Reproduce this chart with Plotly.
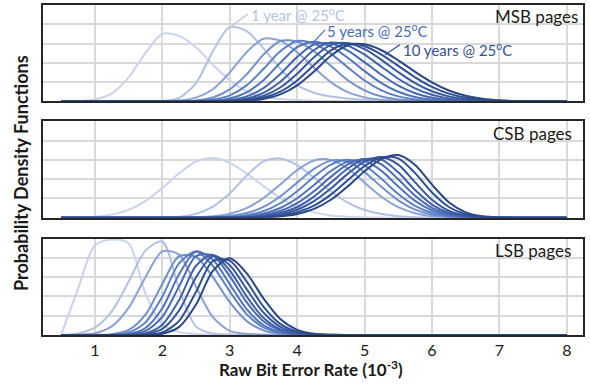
import plotly.graph_objects as go

# ---------------- data ----------------
x_rber = [0.5, 0.75, 1.0, 1.25, 1.5, 1.75, 2.0, 2.25, 2.5, 2.75, 3.0, 3.25, 3.5, 3.75, 4.0,
          4.25, 4.5, 4.75, 5.0, 5.25, 5.5, 5.75, 6.0, 6.25, 6.5, 6.75, 7.0, 7.25, 7.5, 7.75, 8.0]

retention_years = [0, 1, 2, 3, 4, 5, 6, 7, 8, 9, 10]

msb_pdf = [
    [0, 0.003, 0.019, 0.083, 0.25, 0.50, 0.70, 0.68, 0.56, 0.38, 0.22, 0.106, 0.045, 0.024, 0.014, 0.008, 0.004, 0.002, 0.001, 0, 0, 0, 0, 0, 0, 0, 0, 0, 0, 0, 0],
    [0, 0, 0, 0, 0, 0, 0.004, 0.037, 0.19, 0.52, 0.77, 0.73, 0.55, 0.34, 0.17, 0.09, 0.05, 0.03, 0.016, 0.008, 0.004, 0.002, 0.001, 0, 0, 0, 0, 0, 0, 0, 0],
    [0, 0, 0, 0, 0, 0, 0.0015, 0.009, 0.039, 0.126, 0.30, 0.51, 0.65, 0.63, 0.51, 0.35, 0.20, 0.096, 0.042, 0.018, 0.008, 0.004, 0.002, 0.001, 0, 0, 0, 0, 0, 0, 0],
    [0, 0, 0, 0, 0, 0, 0, 0.002, 0.010, 0.041, 0.125, 0.28, 0.485, 0.626, 0.62, 0.52, 0.37, 0.22, 0.115, 0.05, 0.02, 0.008, 0.003, 0.001, 0, 0, 0, 0, 0, 0, 0],
    [0, 0, 0, 0, 0, 0, 0, 0, 0.004, 0.019, 0.063, 0.166, 0.336, 0.52, 0.627, 0.60, 0.496, 0.353, 0.217, 0.115, 0.052, 0.021, 0.008, 0.003, 0.001, 0, 0, 0, 0, 0, 0],
    [0, 0, 0, 0, 0, 0, 0, 0, 0.002, 0.008, 0.031, 0.094, 0.22, 0.40, 0.563, 0.62, 0.568, 0.453, 0.315, 0.19, 0.10, 0.046, 0.018, 0.006, 0.002, 0.001, 0, 0, 0, 0, 0],
    [0, 0, 0, 0, 0, 0, 0, 0, 0, 0.004, 0.016, 0.052, 0.138, 0.284, 0.462, 0.59, 0.60, 0.528, 0.407, 0.276, 0.163, 0.085, 0.039, 0.0155, 0.0055, 0.002, 0.001, 0, 0, 0, 0],
    [0, 0, 0, 0, 0, 0, 0, 0, 0, 0.002, 0.0085, 0.031, 0.089, 0.204, 0.37, 0.533, 0.61, 0.579, 0.485, 0.36, 0.235, 0.136, 0.069, 0.031, 0.0125, 0.0044, 0.0015, 0, 0, 0, 0],
    [0, 0, 0, 0, 0, 0, 0, 0, 0, 0, 0.005, 0.019, 0.058, 0.144, 0.287, 0.459, 0.586, 0.604, 0.542, 0.431, 0.304, 0.19, 0.105, 0.052, 0.0225, 0.0087, 0.003, 0.001, 0, 0, 0],
    [0, 0, 0, 0, 0, 0, 0, 0, 0, 0, 0.003, 0.0114, 0.038, 0.101, 0.217, 0.377, 0.53, 0.60, 0.572, 0.486, 0.369, 0.25, 0.151, 0.081, 0.039, 0.0167, 0.0064, 0.002, 0.0007, 0, 0],
    [0, 0, 0, 0, 0, 0, 0, 0, 0, 0, 0.0018, 0.0074, 0.026, 0.073, 0.167, 0.311, 0.473, 0.583, 0.592, 0.531, 0.426, 0.306, 0.197, 0.113, 0.058, 0.027, 0.011, 0.004, 0.0013, 0, 0],
]

csb_pdf = [
    [0.0006, 0.003, 0.011, 0.032, 0.081, 0.172, 0.308, 0.462, 0.583, 0.619, 0.569, 0.46, 0.328, 0.206, 0.113, 0.055, 0.024, 0.009, 0.003, 0.001, 0, 0, 0, 0, 0, 0, 0, 0, 0, 0, 0],
    [0, 0, 0, 0, 0, 0, 0.002, 0.011, 0.04, 0.114, 0.253, 0.436, 0.585, 0.615, 0.545, 0.416, 0.274, 0.156, 0.08, 0.038, 0.016, 0.006, 0.002, 0.001, 0, 0, 0, 0, 0, 0, 0],
    [0, 0, 0, 0, 0, 0, 0, 0.001, 0.0043, 0.0146, 0.042, 0.10, 0.203, 0.345, 0.494, 0.594, 0.60, 0.51, 0.364, 0.218, 0.11, 0.047, 0.0167, 0.005, 0.0013, 0, 0, 0, 0, 0, 0],
    [0, 0, 0, 0, 0, 0, 0, 0, 0.0013, 0.005, 0.017, 0.048, 0.112, 0.22, 0.364, 0.506, 0.592, 0.58, 0.473, 0.32, 0.18, 0.084, 0.0326, 0.0105, 0.0028, 0.0007, 0, 0, 0, 0, 0],
    [0, 0, 0, 0, 0, 0, 0, 0, 0, 0.0023, 0.0085, 0.026, 0.068, 0.15, 0.275, 0.424, 0.55, 0.60, 0.543, 0.403, 0.245, 0.122, 0.05, 0.0166, 0.0045, 0.001, 0, 0, 0, 0, 0],
    [0, 0, 0, 0, 0, 0, 0, 0, 0, 0.0012, 0.0047, 0.0155, 0.043, 0.101, 0.202, 0.34, 0.484, 0.582, 0.59, 0.486, 0.324, 0.174, 0.075, 0.026, 0.0074, 0.0017, 0, 0, 0, 0, 0],
    [0, 0, 0, 0, 0, 0, 0, 0, 0, 0, 0.0025, 0.009, 0.027, 0.07, 0.151, 0.275, 0.424, 0.553, 0.61, 0.553, 0.398, 0.228, 0.103, 0.037, 0.0106, 0.0024, 0.0005, 0, 0, 0, 0],
    [0, 0, 0, 0, 0, 0, 0, 0, 0, 0, 0.0014, 0.0054, 0.0175, 0.048, 0.111, 0.219, 0.364, 0.51, 0.606, 0.602, 0.471, 0.287, 0.136, 0.05, 0.0145, 0.0032, 0.0006, 0, 0, 0, 0],
    [0, 0, 0, 0, 0, 0, 0, 0, 0, 0, 0.0009, 0.0035, 0.0117, 0.034, 0.083, 0.172, 0.303, 0.455, 0.581, 0.63, 0.55, 0.366, 0.186, 0.072, 0.021, 0.0048, 0.0008, 0, 0, 0, 0],
    [0, 0, 0, 0, 0, 0, 0, 0, 0, 0, 0, 0.0018, 0.0068, 0.021, 0.056, 0.125, 0.239, 0.388, 0.536, 0.628, 0.616, 0.462, 0.261, 0.111, 0.0356, 0.0086, 0.0016, 0, 0, 0, 0],
    [0, 0, 0, 0, 0, 0, 0, 0, 0, 0, 0, 0.001, 0.004, 0.0133, 0.038, 0.091, 0.186, 0.325, 0.482, 0.607, 0.65, 0.547, 0.343, 0.16, 0.056, 0.0144, 0.0028, 0.0005, 0, 0, 0],
]

lsb_pdf = [
    [0, 0.48, 0.93, 0.99, 0.95, 0.43, 0.11, 0.03, 0.01, 0.003, 0.001, 0, 0, 0, 0, 0, 0, 0, 0, 0, 0, 0, 0, 0, 0, 0, 0, 0, 0, 0, 0],
    [0, 0.017, 0.076, 0.244, 0.552, 0.875, 0.97, 0.477, 0.087, 0.015, 0.005, 0.002, 0, 0, 0, 0, 0, 0, 0, 0, 0, 0, 0, 0, 0, 0, 0, 0, 0, 0, 0],
    [0, 0.003, 0.019, 0.089, 0.281, 0.60, 0.867, 0.834, 0.50, 0.185, 0.042, 0.012, 0.005, 0.002, 0, 0, 0, 0, 0, 0, 0, 0, 0, 0, 0, 0, 0, 0, 0, 0, 0],
    [0, 0, 0.0008, 0.008, 0.052, 0.212, 0.53, 0.818, 0.809, 0.601, 0.34, 0.146, 0.048, 0.012, 0.0023, 0.0004, 0, 0, 0, 0, 0, 0, 0, 0, 0, 0, 0, 0, 0, 0, 0],
    [0, 0, 0, 0.0034, 0.027, 0.131, 0.398, 0.745, 0.865, 0.716, 0.451, 0.217, 0.08, 0.022, 0.0047, 0.0008, 0, 0, 0, 0, 0, 0, 0, 0, 0, 0, 0, 0, 0, 0, 0],
    [0, 0, 0, 0.001, 0.0115, 0.0725, 0.277, 0.632, 0.867, 0.78, 0.528, 0.269, 0.1035, 0.03, 0.0065, 0.001, 0, 0, 0, 0, 0, 0, 0, 0, 0, 0, 0, 0, 0, 0, 0],
    [0, 0, 0, 0.0005, 0.0056, 0.042, 0.188, 0.507, 0.819, 0.823, 0.61, 0.34, 0.143, 0.045, 0.011, 0.002, 0, 0, 0, 0, 0, 0, 0, 0, 0, 0, 0, 0, 0, 0, 0],
    [0, 0, 0, 0, 0.0018, 0.018, 0.107, 0.364, 0.718, 0.833, 0.669, 0.40, 0.178, 0.059, 0.0145, 0.0027, 0.0004, 0, 0, 0, 0, 0, 0, 0, 0, 0, 0, 0, 0, 0, 0],
    [0, 0, 0, 0, 0.0008, 0.009, 0.063, 0.255, 0.598, 0.818, 0.724, 0.476, 0.233, 0.085, 0.023, 0.0047, 0.0008, 0, 0, 0, 0, 0, 0, 0, 0, 0, 0, 0, 0, 0, 0],
    [0, 0, 0, 0, 0, 0.0028, 0.027, 0.147, 0.447, 0.766, 0.772, 0.556, 0.295, 0.115, 0.033, 0.0069, 0.0013, 0, 0, 0, 0, 0, 0, 0, 0, 0, 0, 0, 0, 0, 0],
    [0, 0, 0, 0, 0, 0.001, 0.0127, 0.084, 0.316, 0.666, 0.795, 0.641, 0.379, 0.165, 0.053, 0.012, 0.002, 0.0004, 0, 0, 0, 0, 0, 0, 0, 0, 0, 0, 0, 0, 0],
]

panel_names = ["MSB pages", "CSB pages", "LSB pages"]
x_ticks = [1, 2, 3, 4, 5, 6, 7, 8]

# ---------------- styling ----------------
curve_colors = ['#c9d3eb', '#b2c1e3', '#8aa2d5', '#7090cb', '#5d7fc3', '#5173bc',
                '#4869b3', '#4060a8', '#38589e', '#315093', '#2a4786']
FONT = "Lato"
GRID = '#d9d9d9'

fig = go.Figure()

# plot area: x 43..583 px, panels 3..100, 120..217, 238..335 px
ML, MR, MT, MB = 43, 7, 3, 50
W, H = 590, 385
ph = H - MT - MB


def ydom(top_px, bot_px):
    return [(H - MB - bot_px) / ph, (H - MB - top_px) / ph]


domains = [ydom(3, 100), ydom(120, 217), ydom(238, 335)]
panels = [msb_pdf, csb_pdf, lsb_pdf]

for p, data in enumerate(panels):
    ax = '' if p == 0 else str(p + 1)
    for i, yv in enumerate(data):
        fig.add_trace(go.Scatter(
            x=x_rber, y=yv, mode='lines',
            line=dict(color=curve_colors[i], width=2, shape='spline', smoothing=0.8),
            xaxis='x' + ax, yaxis='y' + ax, showlegend=False, hoverinfo='skip',
            name=f"{retention_years[i]} years"))

axis_common = dict(range=[0.23, 8.24], tickvals=x_ticks, showgrid=True, gridcolor=GRID,
                   gridwidth=1.5, zeroline=False, showline=True, mirror=True,
                   linecolor='#262626', linewidth=1.5, ticks='')
yaxis_common = dict(range=[0, 1.0], dtick=0.2, showgrid=True, gridcolor=GRID, gridwidth=1.5,
                    zeroline=False, showline=True, mirror=True, linecolor='#262626',
                    linewidth=1.5, showticklabels=False, ticks='')

layout = dict(
    width=W, height=H, margin=dict(l=ML, r=MR, t=MT, b=MB),
    paper_bgcolor='white', plot_bgcolor='white',
    font=dict(family=FONT, color='#1a1a1a'),
)
for p in range(3):
    ax = '' if p == 0 else str(p + 1)
    xa = dict(axis_common, domain=[0, 1], anchor='y' + ax,
              showticklabels=(p == 2), tickfont=dict(size=16, family=FONT, color='#1a1a1a'))
    ya = dict(yaxis_common, domain=domains[p], anchor='x' + ax)
    layout['xaxis' + ax] = xa
    layout['yaxis' + ax] = ya
fig.update_layout(**layout)

annotations = []
label_pos = [(580, 15), (574, 132), (573, 250)]
for name, (px, py) in zip(panel_names, label_pos):
    annotations.append(dict(text=name, xref='paper', yref='paper',
                            x=(px - ML) / (W - ML - MR), y=(H - MB - py) / ph,
                            xanchor='right', yanchor='middle', showarrow=False,
                            font=dict(size=17, family=FONT, color='#1a1a1a')))

# age labels with leader lines (panel 1 data coords)
age_labels = [
    ("1 year @ 25<sup>o</sup>C", '#b4c3e6', (3.03, 0.784), (3.27, 0.907), (3.29, 0.9)),
    ("5 years @ 25<sup>o</sup>C", '#4a6cb4', (4.235, 0.608), (4.413, 0.742), (4.42, 0.735)),
    ("10 years @ 25<sup>o</sup>C", '#34528f', (5.303, 0.485), (5.525, 0.588), (5.545, 0.54)),
]
shapes = []
for text, col, p0, p1, tp in age_labels:
    shapes.append(dict(type='line', xref='x', yref='y', x0=p0[0], y0=p0[1], x1=p1[0], y1=p1[1],
                       line=dict(color=col, width=1.2)))
    annotations.append(dict(text=text, xref='x', yref='y', x=tp[0], y=tp[1],
                            xanchor='left', yanchor='middle', showarrow=False,
                            font=dict(size=15, family=FONT, color=col)))

annotations.append(dict(text="<b>Probability Density Functions</b>", xref='paper', yref='paper',
                        x=(21 - ML) / (W - ML - MR), y=(H - MB - 172) / ph, textangle=-90,
                        xanchor='center', yanchor='middle', showarrow=False,
                        font=dict(size=18, family=FONT, color='#1a1a1a')))
annotations.append(dict(text="<b>Raw Bit Error Rate (10<sup>-3</sup>)</b>", xref='paper', yref='paper',
                        x=(311 - ML) / (W - ML - MR), y=(H - MB - 369) / ph,
                        xanchor='center', yanchor='middle', showarrow=False,
                        font=dict(size=17, family=FONT, color='#1a1a1a')))

fig.update_layout(annotations=annotations, shapes=shapes)
fig.write_html("out.html", config={'displayModeBar': False},
               post_script="document.body.style.margin='0px';")
